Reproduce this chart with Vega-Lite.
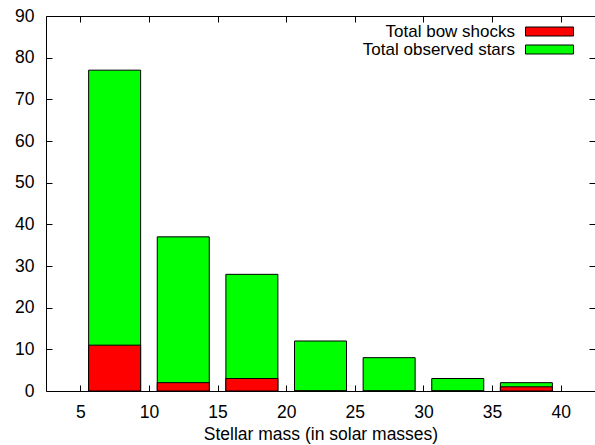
{
  "$schema": "https://vega.github.io/schema/vega-lite/v6.json",
  "width": 549,
  "height": 375,
  "autosize": {"type": "none"},
  "padding": {"left": 46, "top": 16, "right": 0, "bottom": 54},
  "background": "white",
  "config": {
    "view": {"stroke": null},
    "font": "Liberation Sans",
    "axis": {
      "grid": false,
      "domainColor": "black",
      "tickColor": "black",
      "labelColor": "black",
      "titleColor": "black",
      "labelFontSize": 17.5,
      "titleFontSize": 17.5,
      "titleFontWeight": "normal",
      "tickSize": -6,
      "domainWidth": 1,
      "tickWidth": 1
    },
    "legend": {"padding": 0}
  },
  "data": {
    "values": [
      {"mass": 7.5, "series": "Total observed stars", "count": 77},
      {"mass": 12.5, "series": "Total observed stars", "count": 37},
      {"mass": 17.5, "series": "Total observed stars", "count": 28},
      {"mass": 22.5, "series": "Total observed stars", "count": 12},
      {"mass": 27.5, "series": "Total observed stars", "count": 8},
      {"mass": 32.5, "series": "Total observed stars", "count": 3},
      {"mass": 37.5, "series": "Total observed stars", "count": 2},
      {"mass": 7.5, "series": "Total bow shocks", "count": 11},
      {"mass": 12.5, "series": "Total bow shocks", "count": 2},
      {"mass": 17.5, "series": "Total bow shocks", "count": 3},
      {"mass": 22.5, "series": "Total bow shocks", "count": 0},
      {"mass": 27.5, "series": "Total bow shocks", "count": 0},
      {"mass": 32.5, "series": "Total bow shocks", "count": 0},
      {"mass": 37.5, "series": "Total bow shocks", "count": 1}
    ]
  },
  "layer": [
    {
      "mark": {"type": "bar", "width": 52, "stroke": "black", "strokeWidth": 1},
      "encoding": {
        "x": {
          "field": "mass",
          "type": "quantitative",
          "scale": {"domain": [2.5, 42.5], "nice": false, "zero": false, "padding": 0},
          "axis": {
            "values": [5, 10, 15, 20, 25, 30, 35, 40],
            "title": "Stellar mass (in solar masses)",
            "labelPadding": 18,
            "titlePadding": 5
          }
        },
        "y": {
          "field": "count",
          "type": "quantitative",
          "stack": null,
          "scale": {"domain": [0, 90], "nice": false, "padding": 0},
          "axis": {
            "values": [0, 10, 20, 30, 40, 50, 60, 70, 80, 90],
            "title": null,
            "labelPadding": 18
          }
        },
        "color": {
          "field": "series",
          "type": "nominal",
          "scale": {
            "domain": ["Total bow shocks", "Total observed stars"],
            "range": ["#ff0000", "#00ff00"]
          },
          "legend": {
            "orient": "none",
            "legendX": 494,
            "legendY": 6,
            "title": null,
            "symbolType": "M-2.6667,-0.5H2.6667V0.5H-2.6667Z",
            "symbolSize": 324,
            "symbolStrokeColor": "black",
            "symbolStrokeWidth": 1,
            "symbolOpacity": 1,
            "labelAlign": "right",
            "labelOffset": -44,
            "labelFontSize": 17,
            "labelColor": "black",
            "labelLimit": 300,
            "rowPadding": 0
          }
        }
      }
    },
    {
      "mark": {"type": "point", "opacity": 0},
      "encoding": {
        "x": {
          "field": "mass",
          "type": "quantitative",
          "scale": {"domain": [2.5, 42.5], "nice": false, "zero": false, "padding": 0},
          "axis": {"orient": "top", "values": [5, 10, 15, 20, 25, 30, 35, 40], "labels": false, "title": null}
        },
        "y": {
          "field": "count",
          "type": "quantitative",
          "scale": {"domain": [0, 90], "nice": false, "padding": 0},
          "axis": {"orient": "right", "values": [0, 10, 20, 30, 40, 50, 60, 70, 80, 90], "labels": false, "title": null}
        }
      }
    }
  ],
  "resolve": {"axis": {"x": "independent", "y": "independent"}}
}
